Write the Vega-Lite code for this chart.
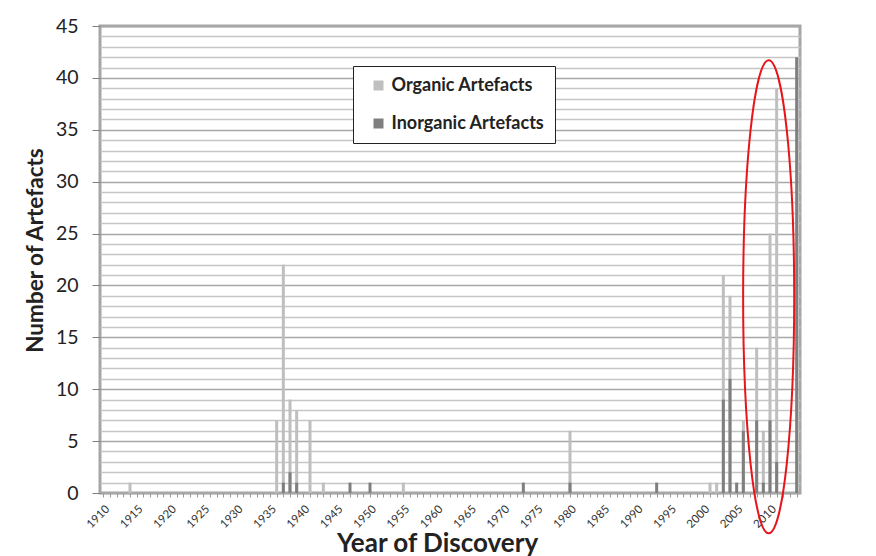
{
  "$schema": "https://vega.github.io/schema/vega-lite/v6.json",
  "width": 700,
  "height": 467,
  "autosize": "none",
  "padding": {"left": 100, "top": 26, "right": 76, "bottom": 63},
  "background": "white",
  "config": {
    "view": {"stroke": "#a6a6a6", "strokeWidth": 3},
    "font": "Lato"
  },
  "resolve": {"axis": {"y": "independent"}},
  "layer": [
    {
      "data": {
        "values": [
          {"year": 1914, "type": "Organic Artefacts", "count": 1},
          {"year": 1936, "type": "Organic Artefacts", "count": 7},
          {"year": 1937, "type": "Organic Artefacts", "count": 22},
          {"year": 1938, "type": "Organic Artefacts", "count": 9},
          {"year": 1939, "type": "Organic Artefacts", "count": 8},
          {"year": 1941, "type": "Organic Artefacts", "count": 7},
          {"year": 1943, "type": "Organic Artefacts", "count": 1},
          {"year": 1955, "type": "Organic Artefacts", "count": 1},
          {"year": 1980, "type": "Organic Artefacts", "count": 6},
          {"year": 2001, "type": "Organic Artefacts", "count": 1},
          {"year": 2002, "type": "Organic Artefacts", "count": 1},
          {"year": 2003, "type": "Organic Artefacts", "count": 21},
          {"year": 2004, "type": "Organic Artefacts", "count": 19},
          {"year": 2006, "type": "Organic Artefacts", "count": 7},
          {"year": 2008, "type": "Organic Artefacts", "count": 14},
          {"year": 2009, "type": "Organic Artefacts", "count": 6},
          {"year": 2010, "type": "Organic Artefacts", "count": 25},
          {"year": 2011, "type": "Organic Artefacts", "count": 39},
          {"year": 1937, "type": "Inorganic Artefacts", "count": 1},
          {"year": 1938, "type": "Inorganic Artefacts", "count": 2},
          {"year": 1939, "type": "Inorganic Artefacts", "count": 1},
          {"year": 1947, "type": "Inorganic Artefacts", "count": 1},
          {"year": 1950, "type": "Inorganic Artefacts", "count": 1},
          {"year": 1973, "type": "Inorganic Artefacts", "count": 1},
          {"year": 1980, "type": "Inorganic Artefacts", "count": 1},
          {"year": 1993, "type": "Inorganic Artefacts", "count": 1},
          {"year": 2003, "type": "Inorganic Artefacts", "count": 9},
          {"year": 2004, "type": "Inorganic Artefacts", "count": 11},
          {"year": 2005, "type": "Inorganic Artefacts", "count": 1},
          {"year": 2006, "type": "Inorganic Artefacts", "count": 6},
          {"year": 2008, "type": "Inorganic Artefacts", "count": 7},
          {"year": 2009, "type": "Inorganic Artefacts", "count": 1},
          {"year": 2010, "type": "Inorganic Artefacts", "count": 7},
          {"year": 2011, "type": "Inorganic Artefacts", "count": 3},
          {"year": 2014, "type": "Inorganic Artefacts", "count": 42}
        ]
      },
      "mark": {"type": "bar", "size": 3},
      "encoding": {
        "x": {
          "field": "year",
          "type": "quantitative",
          "scale": {"domain": [1909.5, 2014.5], "nice": false, "zero": false, "padding": 0},
          "axis": {
            "values": [1910,1911,1912,1913,1914,1915,1916,1917,1918,1919,1920,1921,1922,1923,1924,1925,1926,1927,1928,1929,1930,1931,1932,1933,1934,1935,1936,1937,1938,1939,1940,1941,1942,1943,1944,1945,1946,1947,1948,1949,1950,1951,1952,1953,1954,1955,1956,1957,1958,1959,1960,1961,1962,1963,1964,1965,1966,1967,1968,1969,1970,1971,1972,1973,1974,1975,1976,1977,1978,1979,1980,1981,1982,1983,1984,1985,1986,1987,1988,1989,1990,1991,1992,1993,1994,1995,1996,1997,1998,1999,2000,2001,2002,2003,2004,2005,2006,2007,2008,2009,2010,2011,2012,2013,2014],
            "tickCount": 105,
            "labelExpr": "datum.value % 5 === 0 ? '' + datum.value : ''",
            "labelOverlap": false,
            "labelFlush": false,
            "labelAngle": -45,
            "labelFontSize": 11.5,
            "labelColor": "#333333",
            "labelPadding": 6,
            "tickSize": 4,
            "tickColor": "#999999",
            "domain": false,
            "grid": false,
            "title": "Year of Discovery",
            "titleFontSize": 26,
            "titleFontWeight": "bold",
            "titleColor": "#222222",
            "titleX": 337,
            "titleY": 50,
            "titleBaseline": "middle",
            "titleAlign": "center"
          }
        },
        "y": {
          "field": "count",
          "type": "quantitative",
          "stack": null,
          "scale": {"domain": [0, 45], "nice": false},
          "axis": {
            "values": [0,5,10,15,20,25,30,35,40,45],
            "labelOverlap": false,
            "labelFlush": false,
            "labelFontSize": 19.5,
            "labelColor": "#222222",
            "labelPadding": 14,
            "tickSize": 8,
            "tickColor": "#808080",
            "grid": true,
            "gridColor": "#a8a8a8",
            "gridWidth": 1.6,
            "domain": false,
            "title": "Number of Artefacts",
            "titleFontSize": 22.5,
            "titleFontWeight": "bold",
            "titleColor": "#222222",
            "titleX": -65,
            "titleY": 224,
            "titleAngle": -90,
            "titleBaseline": "middle",
            "titleAlign": "center"
          }
        },
        "color": {
          "field": "type",
          "type": "nominal",
          "scale": {"domain": ["Organic Artefacts", "Inorganic Artefacts"], "range": ["#bfbfbf", "#7f7f7f"]},
          "legend": {
            "orient": "none",
            "legendX": 253,
            "legendY": 40,
            "title": null,
            "strokeColor": "#222222",
            "fillColor": "white",
            "padding": 10.5,
            "symbolType": "square",
            "symbolSize": 100,
            "symbolStrokeWidth": 0,
            "symbolOffset": 6,
            "labelOffset": 4,
            "labelFontSize": 18,
            "labelFontWeight": "bold",
            "labelColor": "#222222",
            "rowPadding": 20
          }
        }
      }
    },
    {
      "data": {"values": [{}]},
      "mark": {
        "type": "point",
        "shape": "M0,-1C0.0596,-1,0.108,-0.5523,0.108,0C0.108,0.5523,0.0596,1,0,1C-0.0596,1,-0.108,0.5523,-0.108,0C-0.108,-0.5523,-0.0596,-1,0,-1Z",
        "size": 223729,
        "filled": false,
        "color": "#e8141c",
        "strokeWidth": 2,
        "opacity": 1
      },
      "encoding": {
        "x": {
          "datum": 2009.8,
          "type": "quantitative",
          "axis": {
            "values": [1910,1911,1912,1913,1914,1915,1916,1917,1918,1919,1920,1921,1922,1923,1924,1925,1926,1927,1928,1929,1930,1931,1932,1933,1934,1935,1936,1937,1938,1939,1940,1941,1942,1943,1944,1945,1946,1947,1948,1949,1950,1951,1952,1953,1954,1955,1956,1957,1958,1959,1960,1961,1962,1963,1964,1965,1966,1967,1968,1969,1970,1971,1972,1973,1974,1975,1976,1977,1978,1979,1980,1981,1982,1983,1984,1985,1986,1987,1988,1989,1990,1991,1992,1993,1994,1995,1996,1997,1998,1999,2000,2001,2002,2003,2004,2005,2006,2007,2008,2009,2010,2011,2012,2013,2014],
            "tickCount": 105,
            "labelExpr": "datum.value % 5 === 0 ? '' + datum.value : ''",
            "labelOverlap": false,
            "labelFlush": false,
            "labelAngle": -45,
            "labelFontSize": 11.5,
            "labelColor": "#333333",
            "labelPadding": 6,
            "tickSize": 4,
            "tickColor": "#999999",
            "domain": false,
            "grid": false,
            "title": "Year of Discovery",
            "titleFontSize": 26,
            "titleFontWeight": "bold",
            "titleColor": "#222222",
            "titleX": 337,
            "titleY": 50,
            "titleBaseline": "middle",
            "titleAlign": "center"
          }
        },
        "y": {
          "datum": 18.9,
          "type": "quantitative",
          "axis": {
            "orient": "left",
            "values": [1,2,3,4,6,7,8,9,11,12,13,14,16,17,18,19,21,22,23,24,26,27,28,29,31,32,33,34,36,37,38,39,41,42,43,44],
            "labels": false,
            "ticks": false,
            "domain": false,
            "grid": true,
            "gridColor": "#c6c6c6",
            "gridWidth": 1.6,
            "title": null
          }
        }
      }
    }
  ]
}
